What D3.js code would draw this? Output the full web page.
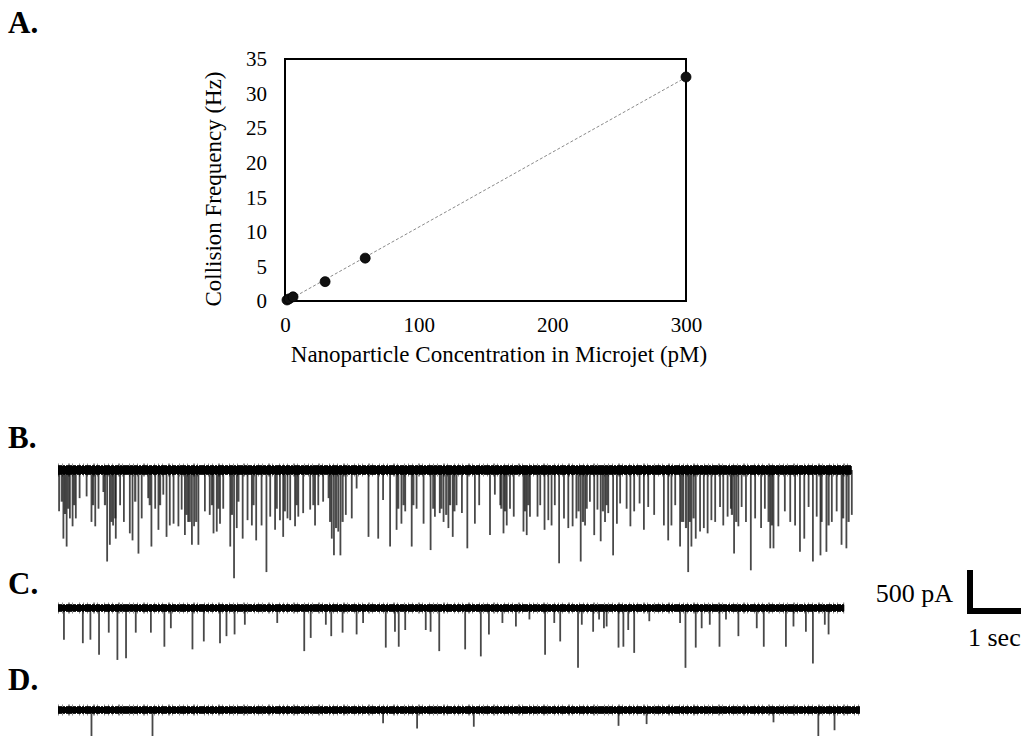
<!DOCTYPE html>
<html>
<head>
<meta charset="utf-8">
<script src="https://cdn.jsdelivr.net/npm/d3@7"></script>
<style>
  html, body { margin: 0; padding: 0; background: #fff; }
  svg { display: block; font-family: "Liberation Serif", "Times New Roman", serif; }
</style>
</head>
<body>
<svg id="chart" width="1024" height="736"></svg>
<script>
// ---------- Panel A data ----------
const concentration = [1.5, 3, 6, 30, 60, 300];          // pM
const frequency     = [0.15, 0.3, 0.6, 2.8, 6.2, 32.4];  // Hz
const xTicks = [0, 100, 200, 300];
const yTicks = [0, 5, 10, 15, 20, 25, 30, 35];

// ---------- Traces: spikes [time (s), amplitude (pA)] ----------
const durationB = 14.7, durationC = 14.56, durationD = 14.85;
const spikesB = [
  [0.02,470],[0.10,780],[0.16,870],[0.22,550],[0.27,640],[0.33,550],[0.40,320],[0.53,300],
  [0.62,590],[0.69,640],[0.75,440],[0.84,250],[0.91,1040],[0.96,850],[1.02,630],[1.07,780],
  [1.15,400],[1.22,590],[1.33,720],[1.38,800],[1.49,950],[1.55,550],[1.67,320],[1.73,870],
  [1.80,440],[1.86,680],[1.95,280],[2.01,760],[2.07,630],[2.14,610],[2.23,640],[2.29,450],
  [2.35,740],[2.41,590],[2.48,850],[2.52,640],[2.60,850],[2.72,470],[2.81,510],[2.88,720],
  [2.94,700],[3.00,610],[3.06,440],[3.19,870],[3.26,1230],[3.31,660],[3.42,780],[3.51,570],
  [3.59,630],[3.67,800],[3.77,630],[3.86,1160],[3.93,530],[4.02,680],[4.11,570],[4.17,760],
  [4.25,550],[4.30,570],[4.39,640],[4.45,530],[4.54,490],[4.67,450],[4.76,630],[4.82,400],
  [4.91,360],[5.01,320],[5.07,780],[5.11,970],[5.19,700],[5.23,970],[5.33,510],[5.44,550],
  [5.53,210],[5.75,760],[5.93,780],[6.02,340],[6.15,870],[6.27,680],[6.36,610],[6.43,470],
  [6.55,870],[6.64,440],[6.77,610],[6.90,910],[6.98,530],[7.07,490],
  [7.14,590],[7.23,660],[7.31,760],[7.38,400],[7.48,490],[7.58,890],[7.72,610],[7.80,400],
  [8.00,740],[8.09,280],[8.19,400],[8.25,720],[8.31,630],[8.37,440],[8.44,530],[8.62,700],
  [8.68,740],[8.74,530],[8.88,530],[8.93,400],[9.01,680],[9.08,570],[9.14,630],[9.20,400],
  [9.28,1060],[9.37,550],[9.45,660],[9.53,640],[9.60,550],[9.68,1040],[9.76,630],[9.85,360],
  [9.93,740],[9.99,450],[10.05,810],[10.13,590],[10.19,490],[10.28,970],[10.35,610],[10.41,380],
  [10.53,440],[10.60,640],[10.67,470],[10.77,380],[10.85,680],[10.93,420],[11.04,510],[11.22,630],
  [11.30,800],[11.36,630],[11.43,400],[11.52,870],[11.58,590],[11.67,1160],[11.73,870],[11.81,780],
  [11.89,700],[11.96,660],[12.03,720],[12.10,570],[12.17,590],[12.26,420],[12.32,630],[12.40,530],
  [12.46,440],[12.52,950],[12.60,640],[12.66,420],[12.74,590],[12.83,1140],[12.91,550],[13.02,660],
  [13.09,440],[13.19,890],[13.25,890],[13.34,640],[13.46,470],[13.56,590],[13.65,630],[13.74,930],
  [13.82,780],[13.90,420],[13.98,1040],[14.05,530],[14.12,970],[14.23,930],[14.33,590],[14.42,470],
  [14.51,850],[14.60,890],[14.70,510]
];
const minorSpikesB = [
  [0.07,360],[0.13,500],[0.19,440],[0.30,400],[0.65,400],[0.87,400],[0.99,590],[1.06,550],
  [1.43,360],[1.70,400],[1.89,400],[2.38,510],[2.44,590],[2.56,590],[2.85,400],[2.97,440],
  [3.22,510],[3.34,360],[3.62,400],[4.05,440],[4.20,470],[4.42,400],[4.73,400],[5.04,590],
  [5.15,660],[5.27,590],[6.30,440],[6.40,400],[6.58,400],[6.95,440],
  [7.10,440],[7.19,510],[7.26,400],[7.34,470],[8.21,440],[8.28,470],[8.65,470],[8.71,400],
  [9.64,470],[9.72,590],[9.79,440],[10.09,470],[10.16,400],[11.55,590],[11.63,660],[11.70,590],
  [11.77,550],[12.48,510],[12.56,590],[13.16,590],[13.22,630],[14.14,590],[14.27,630],[14.54,550],
  [14.64,590]
];
const spikesC = [
  [0.11,360],[0.46,400],[0.60,360],[0.76,530],[0.94,280],[1.10,590],[1.26,570],[1.44,280],
  [1.72,280],[1.97,440],[2.09,230],[2.49,470],[2.70,380],[3.00,400],[3.12,320],[3.27,300],
  [3.46,190],[4.06,170],[4.56,490],[4.68,340],[4.96,190],[5.06,320],[5.27,280],[5.53,300],
  [5.65,170],[6.07,450],[6.24,270],[6.31,440],[6.43,250],[6.81,250],[6.90,270],[7.06,490],
  [7.54,470],[7.83,550],[7.98,300],[8.23,170],[8.48,210],[8.73,130],[9.02,530],[9.19,170],
  [9.30,380],[9.63,680],[9.70,190],[9.91,270],[10.02,130],[10.11,230],[10.16,210],[10.38,450],
  [10.47,440],[10.56,250],[10.67,510],[10.95,150],[11.52,170],[11.62,680],[11.81,450],[11.92,230],
  [12.07,190],[12.25,440],[12.37,130],[12.60,320],[12.94,230],[13.07,440],[13.48,440],[13.62,210],
  [13.85,270],[13.98,630],[14.20,190],[14.27,300]
];
const spikesD = [
  [0.62,400],[1.75,400],[6.02,150],[6.65,210],[7.70,190],[10.38,180],[10.90,160],[13.25,140],
  [14.08,400],[14.38,230]
];
const scaleBarAmp = 500;   // pA
const scaleBarTime = 1;    // sec

// ---------- Drawing ----------
const svg = d3.select("#chart");

// Panel labels
const panelLabels = [["A.", 8, 33], ["B.", 8, 448], ["C.", 8, 594], ["D.", 8, 690]];
svg.selectAll("text.panel").data(panelLabels).join("text")
  .attr("class", "panel")
  .attr("x", d => d[1]).attr("y", d => d[2])
  .attr("font-size", 31).attr("font-weight", "bold").attr("fill", "#000")
  .text(d => d[0]);

// Panel A
const pL = 285, pR = 686, pT = 59, pB = 301;
const x = d3.scaleLinear().domain([0, 300]).range([pL, pR]);
const y = d3.scaleLinear().domain([0, 35]).range([pB, pT]);

const gA = svg.append("g");
const xAxis = d3.axisBottom(x).tickValues(xTicks).tickSize(0).tickPadding(16);
const yAxis = d3.axisLeft(y).tickValues(yTicks).tickSize(0).tickPadding(18);
gA.append("g").attr("transform", `translate(0,${pB})`).call(xAxis)
  .call(g => g.select(".domain").remove())
  .selectAll("text").attr("font-size", 21).attr("font-family", "Liberation Serif").attr("fill", "#000");
gA.append("g").attr("transform", `translate(${pL},0)`).call(yAxis)
  .call(g => g.select(".domain").remove())
  .selectAll("text").attr("font-size", 21).attr("font-family", "Liberation Serif").attr("fill", "#000");

gA.append("rect").attr("x", pL).attr("y", pT).attr("width", pR - pL).attr("height", pB - pT)
  .attr("fill", "none").attr("stroke", "#000").attr("stroke-width", 2);

// linear trendline (least squares)
const mx = d3.mean(concentration), my = d3.mean(frequency);
const sxy = d3.sum(concentration, (c, i) => (c - mx) * (frequency[i] - my));
const sxx = d3.sum(concentration, c => (c - mx) * (c - mx));
const slope = sxy / sxx, icpt = my - slope * mx;
const tx0 = Math.max(0, -icpt / slope), tx1 = 300;
gA.append("line")
  .attr("x1", x(tx0)).attr("y1", y(slope * tx0 + icpt))
  .attr("x2", x(tx1)).attr("y2", y(slope * tx1 + icpt))
  .attr("stroke", "#8a8a8a").attr("stroke-width", 1).attr("stroke-dasharray", "3,2");

gA.selectAll("circle").data(concentration).join("circle")
  .attr("cx", d => x(d)).attr("cy", (d, i) => y(frequency[i])).attr("r", 5)
  .attr("fill", "#111").attr("stroke", "#000").attr("stroke-width", 0.8);

gA.append("text").attr("x", 499).attr("y", 362).attr("text-anchor", "middle")
  .attr("font-size", 23).attr("fill", "#000")
  .text("Nanoparticle Concentration in Microjet (pM)");
gA.append("text").attr("transform", "translate(221,189) rotate(-90)").attr("text-anchor", "middle")
  .attr("font-size", 23).attr("fill", "#000")
  .text("Collision Frequency (Hz)");

// Traces
const pxPerSec = 54, x0 = 58;
const amp = d3.scaleLinear().domain([0, 500]).range([0, 44]);

function drawTrace(spikes, minor, duration, baseY, band) {
  const t = d3.scaleLinear().domain([0, duration]).range([x0, x0 + duration * pxPerSec]);
  const g = svg.append("g");
  g.selectAll("line.mn").data(minor).join("line").attr("class", "mn")
    .attr("x1", d => t(d[0])).attr("x2", d => t(d[0]))
    .attr("y1", baseY).attr("y2", d => baseY + amp(d[1]))
    .attr("stroke", "#111").attr("stroke-width", 2.2).attr("stroke-opacity", 0.75);
  g.selectAll("line.sp").data(spikes).join("line").attr("class", "sp")
    .attr("x1", d => t(d[0])).attr("x2", d => t(d[0]))
    .attr("y1", baseY).attr("y2", d => baseY + amp(d[1]))
    .attr("stroke", "#1a1a1a").attr("stroke-width", 1.8).attr("stroke-opacity", 0.8);
  // noise band with ragged edges
  g.append("line").attr("x1", t(0)).attr("x2", t(duration))
    .attr("y1", baseY).attr("y2", baseY)
    .attr("stroke", "#000").attr("stroke-width", band + 5)
    .attr("stroke-dasharray", "1,3,1,5,2,2,1,6,1,3").attr("stroke-opacity", 0.45);
  g.append("line").attr("x1", t(0)).attr("x2", t(duration))
    .attr("y1", baseY).attr("y2", baseY)
    .attr("stroke", "#000").attr("stroke-width", band + 2)
    .attr("stroke-dasharray", "4,1,2,1,6,1,3,1").attr("stroke-opacity", 0.85);
  g.append("line").attr("x1", t(0)).attr("x2", t(duration))
    .attr("y1", baseY).attr("y2", baseY)
    .attr("stroke", "#000").attr("stroke-width", band);
}
drawTrace(spikesB, minorSpikesB, durationB, 470, 8);
drawTrace(spikesC, [], durationC, 608, 6);
drawTrace(spikesD, [], durationD, 710, 6);

// Scale bar
const sbX = 970, sbY = 611;
svg.append("line").attr("x1", sbX).attr("x2", sbX)
  .attr("y1", sbY + 3 - amp(scaleBarAmp)).attr("y2", sbY + 3)
  .attr("stroke", "#000").attr("stroke-width", 6);
svg.append("line").attr("x1", sbX - 3).attr("x2", sbX - 3 + scaleBarTime * pxPerSec)
  .attr("y1", sbY).attr("y2", sbY)
  .attr("stroke", "#000").attr("stroke-width", 6);
svg.append("text").attr("x", 953).attr("y", 602).attr("text-anchor", "end")
  .attr("font-size", 26).attr("fill", "#000").text(`${scaleBarAmp} pA`);
svg.append("text").attr("x", 968).attr("y", 646)
  .attr("font-size", 26).attr("fill", "#000").text(`${scaleBarTime} sec`);
</script>
</body>
</html>
